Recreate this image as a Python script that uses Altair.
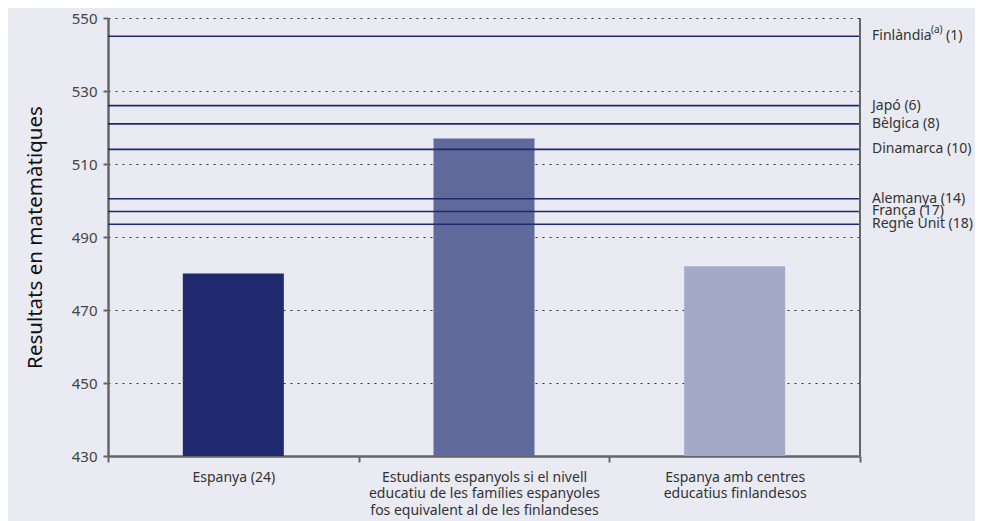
import altair as alt
import pandas as pd

# Bars
categories = [
    "Espanya (24)",
    "Estudiants espanyols si el nivell|educatiu de les famílies espanyoles|fos equivalent al de les finlandeses",
    "Espanya amb centres|educatius finlandesos",
]
bar_values = [480, 517, 482]
bar_colors = ["#1f2a6e", "#5f699c", "#a4a9c8"]

# Reference lines (countries)
countries = ["Finlàndia", "Japó (6)", "Bèlgica (8)", "Dinamarca (10)",
             "Alemanya (14)", "França (17)", "Regne Unit (18)"]
country_scores = [545, 526, 521, 514, 500.5, 497, 493.5]
# Finlàndia's note and rank, drawn as superscript + suffix
fin_note = "(a)"
fin_rank = "(1)"
fin_score = 545

y_ticks = [430, 450, 470, 490, 510, 530, 550]
y_base = 430

W, H = 752, 438
FONT = "Noto Sans"

bars_df = pd.DataFrame({"cat": categories, "value": bar_values, "color": bar_colors})
lines_df = pd.DataFrame({"country": countries, "value": country_scores})
fin_df = pd.DataFrame({"note": [fin_note], "rank": [fin_rank], "value": [fin_score]})

yscale = alt.Scale(domain=[430, 550], nice=False, zero=False)
yaxis = alt.Axis(title="Resultats en matemàtiques", values=y_ticks,
                 titleFont=FONT, titleFontSize=20.5, titleFontWeight="normal",
                 titleColor="#111", titleX=-73, titleY=H / 2,
                 titleAngle=-90, titleAlign="center", titleBaseline="middle",
                 labelFont=FONT, labelFontSize=15, labelColor="#444",
                 labelPadding=6,
                 domainColor="#666", domainWidth=2.5,
                 tickColor="#666", tickWidth=2, tickSize=5,
                 grid=True, gridDash=[2, 5], gridColor="#333", gridWidth=1)

bars = alt.Chart(bars_df).mark_bar(size=101).encode(
    x=alt.X("cat:N", sort=categories,
            scale=alt.Scale(paddingInner=0, paddingOuter=0),
            axis=alt.Axis(title=None, labelAngle=0, tickBand="extent",
                          labelExpr="split(datum.label, '|')",
                          labelLimit=0, labelOverlap=False,
                          labelFont=FONT, labelFontSize=14, labelColor="#333",
                          labelBaseline="top", labelPadding=8, labelLineHeight=16.5,
                          domainColor="#666", domainWidth=2.5,
                          tickColor="#666", tickWidth=2, tickSize=6,
                          grid=False)),
    y=alt.Y("value:Q", scale=yscale, axis=yaxis),
    y2=alt.datum(y_base),
    color=alt.Color("color:N", scale=None),
)

rules = alt.Chart(lines_df).mark_rule(color="#1f2a6e", strokeWidth=1.6).encode(
    y=alt.Y("value:Q", scale=yscale, axis=yaxis),
    x=alt.value(0),
    x2=alt.value(W),
)

right_axis = alt.Chart(lines_df).mark_rule(color="#666", strokeWidth=2).encode(
    x=alt.value(W), y=alt.value(0), y2=alt.value(H)
)

labels = alt.Chart(lines_df).mark_text(
    align="left", baseline="middle", font=FONT, fontSize=14, color="#333", dx=12
).encode(
    y=alt.Y("value:Q", scale=yscale, axis=yaxis),
    x=alt.value(W),
    text="country:N",
)

fin_sup = alt.Chart(fin_df).mark_text(
    align="left", baseline="middle", font=FONT, fontSize=10, color="#333",
    dx=12 + 59, dy=-6
).encode(
    y=alt.Y("value:Q", scale=yscale, axis=yaxis),
    x=alt.value(W),
    text="note:N",
)

fin_suffix = alt.Chart(fin_df).mark_text(
    align="left", baseline="middle", font=FONT, fontSize=14, color="#333",
    dx=12 + 59 + 15
).encode(
    y=alt.Y("value:Q", scale=yscale, axis=yaxis),
    x=alt.value(W),
    text="rank:N",
)

chart = alt.layer(bars, rules, right_axis, labels, fin_sup, fin_suffix).properties(
    width=W, height=H,
    padding={"left": 100, "top": 10, "right": 115, "bottom": 65},
    autosize=alt.AutoSizeParams(type="none"),
    background="#e9eaf2",
).configure_view(stroke=None)

chart.save("out.html", embed_options={"renderer": "svg", "actions": False})
